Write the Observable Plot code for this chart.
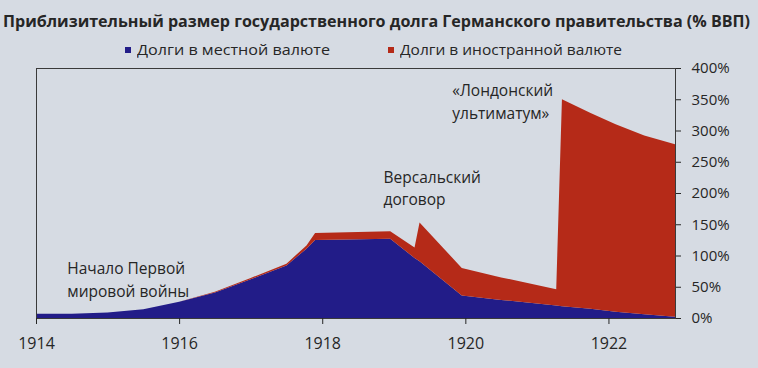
<!DOCTYPE html>
<html><head><meta charset="utf-8">
<script src="https://cdn.jsdelivr.net/npm/d3@7"></script>
<script src="https://cdn.jsdelivr.net/npm/@observablehq/plot@0.6"></script>
<style>
body{margin:0;background:#d6dbe3;font-family:"Open Sans",sans-serif;color:#262626;width:758px;height:368px;overflow:hidden}
#head{position:relative;height:60px}
.fit{position:absolute;white-space:nowrap;transform-origin:0 50%}
#title{left:3px;top:10px;font-weight:700;font-size:16px;line-height:22px}
.legt{top:39px;font-size:15px;line-height:20px}
.sw{position:absolute;width:6px;height:6px;top:47px}
svg{display:block;overflow:visible}
</style></head>
<body>
<div id="head">
  <div id="title" class="fit">Приблизительный размер государственного долга Германского правительства (% ВВП)</div>
  <div class="sw" id="sw0" style="left:125px"></div>
  <div class="fit legt" id="leg0" style="left:137px"></div>
  <div class="sw" id="sw1" style="left:388px"></div>
  <div class="fit legt" id="leg1" style="left:400px"></div>
</div>
<div id="chart"></div>
<script>
const years       = [1914.0, 1914.5, 1915.0, 1915.5, 1916.0, 1916.5, 1917.0, 1917.5, 1917.78, 1917.9, 1918.95, 1919.29, 1919.36, 1919.95, 1920.5, 1921.27, 1921.35, 1921.75, 1922.1, 1922.5, 1922.93];
const localDebt   = [7, 7, 9, 14, 26, 41, 62, 84, 111, 125, 127, 96, 91, 36, 29, 20, 19, 15, 10, 6, 2];
const foreignDebt = [0, 0, 0, 0, 0, 1, 2, 3, 5, 11, 12, 17, 62, 44, 36, 26, 331, 313, 300, 286, 276];
const seriesNames = ["Долги в местной валюте", "Долги в иностранной валюте"];
const seriesColors = ["#221c88", "#b52a18"];
const xTicks = [1914, 1916, 1918, 1920, 1922];
const yTicks = [0, 50, 100, 150, 200, 250, 300, 350, 400];
const notes = ["Начало Первой\nмировой войны", "Версальский\nдоговор", "«Лондонский\nультиматум»"];
const noteX = [1914.43, 1918.85, 1919.81];
const noteY = [64, 211, 349];

const rows = [];
years.forEach((yr, i) => rows.push({year: yr, value: localDebt[i], series: seriesNames[0]}));
years.forEach((yr, i) => rows.push({year: yr, value: foreignDebt[i], series: seriesNames[1]}));

const chart = Plot.plot({
  width: 758, height: 308,
  marginLeft: 36, marginRight: 83, marginTop: 8, marginBottom: 50,
  style: {background: "transparent", fontFamily: "Open Sans", color: "#262626", overflow: "visible"},
  x: {domain: [1914, 1922.93]},
  y: {domain: [0, 400]},
  color: {domain: seriesNames, range: seriesColors},
  marks: [
    Plot.areaY(rows, {x: "year", y: "value", fill: "series"}),
    Plot.frame({stroke: "#3a3a3a", strokeWidth: 1}),
    Plot.axisX({ticks: xTicks, tickFormat: d => String(d), tickSize: 6, tickPadding: 13, fontSize: 16, label: null}),
    Plot.axisY({anchor: "right", ticks: yTicks, tickFormat: d => d + "%", tickSize: 5, tickPadding: 11, fontSize: 15, label: null}),
    Plot.text(notes, {x: (d, i) => noteX[i], y: (d, i) => noteY[i], text: d => d, textAnchor: "start", lineAnchor: "middle", fontSize: 15.5, lineHeight: 1.45, fill: "#262626"})
  ]
});
document.getElementById("chart").append(chart);

seriesNames.forEach((n, i) => {
  document.getElementById("leg" + i).textContent = n;
  document.getElementById("sw" + i).style.background = seriesColors[i];
});

function fit(id, target) {
  const el = document.getElementById(id);
  el.style.transform = "none";
  const w = el.getBoundingClientRect().width;
  el.style.transform = "scaleX(" + (target / w) + ")";
}
function fitAll() {
  fit("title", 747);
  fit("leg0", 193);
  fit("leg1", 222);
}
fitAll();
if (document.fonts && document.fonts.ready) document.fonts.ready.then(fitAll);
</script>
</body></html>
